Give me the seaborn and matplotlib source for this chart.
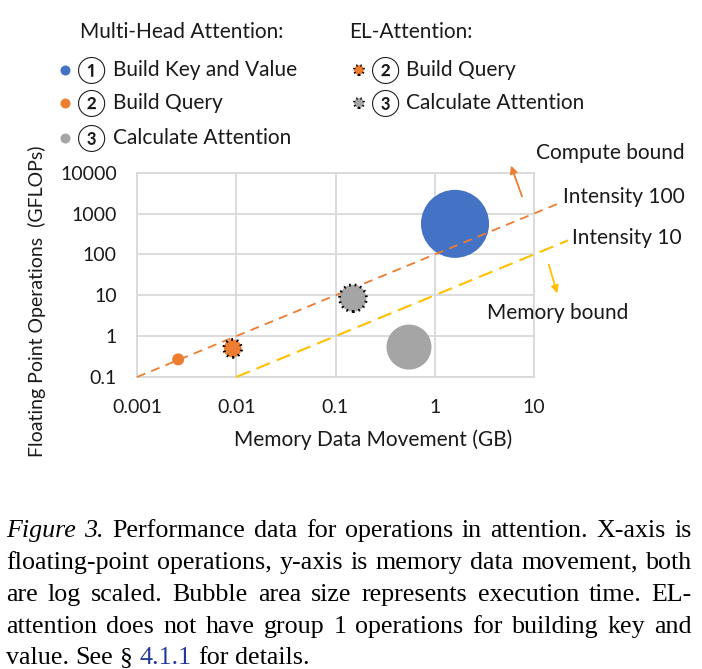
import matplotlib
matplotlib.use("Agg")
import matplotlib.pyplot as plt
import numpy as np
import pandas as pd
import seaborn as sns

# Data
mha_ops = ["Build Key and Value", "Build Query", "Calculate Attention"]
mha_gb = [1.6, 0.0026, 0.55]          # memory data movement (GB)
mha_gflops = [560, 0.27, 0.54]        # floating point operations (GFLOPs)
mha_time = [32, 1.0, 14]              # execution time (relative, bubble area)

el_ops = ["Build Query", "Calculate Attention"]
el_gb = [0.0092, 0.15]
el_gflops = [0.5, 8.5]
el_time = [2.2, 5.0]

intensities = [100, 10]
intensity_x_start = [0.001, 0.01]
intensity_x_end = [17, 22]

x_ticks = [0.001, 0.01, 0.1, 1, 10]
x_tick_labels = ["0.001", "0.01", "0.1", "1", "10"]
y_ticks = [0.1, 1, 10, 100, 1000, 10000]
y_tick_labels = ["0.1", "1", "10", "100", "1000", "10000"]

BLUE, ORANGE, GRAY, YELLOW = "#4472C4", "#ED7D31", "#A5A5A5", "#FFC000"
palette = {"Build Key and Value": BLUE, "Build Query": ORANGE, "Calculate Attention": GRAY}
TXT = "#1a1a1a"
FS = 15

sns.set_theme(style="white")
plt.rcParams["font.family"] = ["Lato", "Noto Sans CJK JP", "DejaVu Sans"]

W, H = 702, 669
fig = plt.figure(figsize=(W / 100, H / 100), dpi=100)

# main axes placed in pixel terms
L, R, T, B = 137, 534, 172.7, 377
ax = fig.add_axes([L / W, 1 - B / H, (R - L) / W, (B - T) / H])

mha = pd.DataFrame({"op": mha_ops, "gb": mha_gb, "gflops": mha_gflops, "time": mha_time})
el = pd.DataFrame({"op": el_ops, "gb": el_gb, "gflops": el_gflops, "time": el_time})

size_kw = dict(sizes=(75, 2400), size_norm=(1, 32))
sns.scatterplot(data=mha, x="gb", y="gflops", hue="op", palette=palette, size="time",
                linewidth=0, alpha=1, legend=False, ax=ax, zorder=2, **size_kw)

# intensity (roofline) lines
for inten, xs, xe, col, dash, lw in zip(intensities, intensity_x_start, intensity_x_end,
                                        [ORANGE, YELLOW], [(5, 3.5), (7, 3.5)], [1.3, 1.5]):
    xl = np.array([xs, xe])
    line_df = pd.DataFrame({"x": xl, "y": inten * xl})
    sns.lineplot(data=line_df, x="x", y="y", color=col, lw=lw, dashes=False, ax=ax,
                 clip_on=False, zorder=3)
    ax.lines[-1].set_dashes(dash)

sns.scatterplot(data=el, x="gb", y="gflops", hue="op", palette=palette, size="time",
                edgecolor="black", linewidth=2.0, linestyle=(0, (0.6, 1.4)), alpha=1,
                legend=False, ax=ax, zorder=4, **size_kw)

ax.set_xscale("log")
ax.set_yscale("log")
ax.set_xlim(0.001, 10)
ax.set_ylim(0.1, 10000)
ax.set_xticks(x_ticks)
ax.set_xticklabels(x_tick_labels)
ax.set_yticks(y_ticks)
ax.set_yticklabels(y_tick_labels)
ax.minorticks_off()
ax.tick_params(length=0, labelsize=14, colors=TXT)
ax.tick_params(axis="y", pad=14.5)
ax.tick_params(axis="x", pad=15.5)
ax.grid(True, color="#D9D9D9", lw=1.3)
ax.set_axisbelow(True)
for s in ax.spines.values():
    s.set_color("#D9D9D9")
    s.set_linewidth(1.3)
ax.set_xlabel("")
ax.set_ylabel("")

# overlay in pixel coordinates for the legend, labels, arrows and caption
ov = fig.add_axes([0, 0, 1, 1], zorder=5)
ov.set_xlim(0, W)
ov.set_ylim(H, 0)
ov.axis("off")
ov.patch.set_visible(False)

ov.text(373, 440, "Memory Data Movement (GB)", ha="center", va="center", fontsize=FS, color=TXT)
ov.text(37, 301, "Floating Point Operations  (GFLOPs)", ha="center", va="center",
        rotation=90, fontsize=14, color=TXT)

# legend
ov.text(80, 32, "Multi-Head Attention:", ha="left", va="center", fontsize=FS, color=TXT)
ov.text(349, 32, "EL-Attention:", ha="left", va="center", fontsize=FS, color=TXT)
legend_rows = [70, 103, 138]
nums = ["\u2460", "\u2461", "\u2462"]
for i, op in enumerate(mha_ops):
    y = legend_rows[i]
    ov.scatter([65], [y], s=52, color=palette[op], linewidth=0)
    ov.text(92, y, nums[i], ha="center", va="center", fontsize=19, color=TXT)
    ov.text(113, y, op, ha="left", va="center", fontsize=FS, color=TXT)
for i, op in enumerate(el_ops):
    y = legend_rows[i]
    ov.scatter([359], [y], s=50, color=palette[op], edgecolor="black", linewidth=1.6,
               linestyle=(0, (0.6, 1.3)))
    ov.text(386, y, nums[i + 1], ha="center", va="center", fontsize=19, color=TXT)
    ov.text(406, y, op, ha="left", va="center", fontsize=FS, color=TXT)

# region annotations
ov.text(536, 153, "Compute bound", ha="left", va="center", fontsize=FS, color=TXT)
ov.text(563, 197, "Intensity 100", ha="left", va="center", fontsize=FS, color=TXT)
ov.text(572, 238, "Intensity 10", ha="left", va="center", fontsize=FS, color=TXT)
ov.text(487, 313, "Memory bound", ha="left", va="center", fontsize=FS, color=TXT)
ov.annotate("", xy=(510, 163), xytext=(523, 199),
            arrowprops=dict(arrowstyle="-|>", color=ORANGE, lw=1.3, mutation_scale=11))
ov.annotate("", xy=(558, 296), xytext=(548, 262),
            arrowprops=dict(arrowstyle="-|>", color=YELLOW, lw=1.3, mutation_scale=11))

# caption, justified word by word
serif = ["Liberation Serif", "DejaVu Serif"]
CAP_SIZE = 18.7
caption = [
    [("Figure", "italic"), ("3.", "italic")] + [(w, None) for w in
        "Performance data for operations in attention.  X-axis is".split()],
    [(w, None) for w in "floating-point operations, y-axis is memory data movement, both".split()],
    [(w, None) for w in "are log scaled.  Bubble area size represents execution time.  EL-".split()],
    [(w, None) for w in "attention does not have group 1 operations for building key and".split()],
    [(w, None) for w in "value. See \u00a7".split()] + [("4.1.1", "link")] + [(w, None) for w in "for details.".split()],
]
baselines = [537, 569, 601, 633, 664]
x0, x1 = 6, 692
renderer = fig.canvas.get_renderer()


def make_word(txt, style):
    kw = dict(fontsize=CAP_SIZE, family=serif, color="black", va="baseline", ha="left")
    if style == "italic":
        kw["style"] = "italic"
    if style == "link":
        kw["color"] = "#24389A"
    return ov.text(0, 0, txt, **kw)


def width_px(t):
    return t.get_window_extent(renderer).width


probe = ov.text(0, 0, "x x", fontsize=CAP_SIZE, family=serif)
probe2 = ov.text(0, 0, "xx", fontsize=CAP_SIZE, family=serif)
space_px = width_px(probe) - width_px(probe2)
probe.remove()
probe2.remove()

for li, (words, yb) in enumerate(zip(caption, baselines)):
    objs = [make_word(w, st) for w, st in words]
    widths = [width_px(o) for o in objs]
    last = li == len(caption) - 1
    gap = space_px if last else (x1 - x0 - sum(widths)) / (len(objs) - 1)
    x = x0
    for o, wd in zip(objs, widths):
        o.set_position((x, yb))
        x += wd + gap

fig.savefig("out.png", dpi=100)
